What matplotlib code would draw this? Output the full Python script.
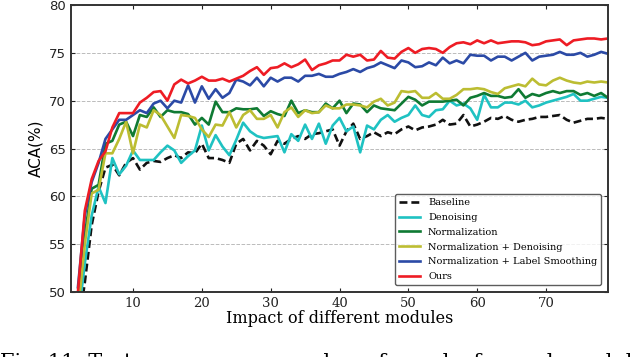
import matplotlib

matplotlib.use("Agg")
import matplotlib.pyplot as plt

# epochs 2..79
epochs = list(range(2, 80))

baseline = [46, 51, 57, 60.5, 63.0, 63.3, 62.2, 63.5, 64.0, 62.8,
            63.5, 63.7, 63.6, 64.0, 64.3, 64.0, 64.6, 64.5, 65.5, 64.0,
            64.0, 63.8, 63.5, 65.5, 66.0, 64.8, 65.8, 65.3, 64.4, 65.8,
            65.5, 66.0, 66.3, 66.0, 66.5, 66.6, 66.8, 67.0, 65.3, 66.8,
            67.6, 66.0, 66.3, 66.7, 66.3, 66.7, 66.5, 67.0, 67.3, 66.9,
            67.2, 67.3, 67.5, 68.0, 67.5, 67.6, 68.5, 67.3, 67.5, 67.8,
            68.2, 68.1, 68.4, 68.0, 67.8, 68.0, 68.1, 68.3, 68.3, 68.4,
            68.5, 68.0, 67.7, 67.9, 68.1, 68.1, 68.2, 68.1]
denoising = [47, 53, 58, 61, 59.3, 64, 62.3, 63.2, 64.8, 63.8,
             63.8, 63.8, 64.6, 65.3, 64.8, 63.5, 64.2, 64.8, 67.4, 64.8,
             66.4, 65.2, 64.3, 65.9, 67.7, 66.8, 66.3, 66.1, 66.2, 66.3,
             64.6, 66.5, 65.8, 67.5, 66.0, 67.6, 65.5, 67.4, 68.2, 66.8,
             67.3, 64.6, 67.4, 67.0, 68.0, 68.5, 67.8, 68.2, 68.5, 69.5,
             68.5, 68.3, 69.0, 69.1, 70.0, 69.5, 69.7, 69.2, 68.0, 70.6,
             69.3, 69.3, 69.8, 69.8, 69.6, 70.0, 69.3, 69.5, 69.8, 70.0,
             70.2, 70.4, 70.7, 70.0, 70.0, 70.2, 70.4, 70.3]
normalization = [49, 56, 60.8, 61.2, 65.5, 65.8, 67.5, 67.8, 66.3, 68.5,
                 68.3, 69.3, 68.3, 69.0, 68.8, 68.8, 68.6, 67.5, 68.2, 67.5,
                 69.9, 68.8, 68.8, 69.2, 69.1, 69.1, 69.2, 68.4, 68.9, 68.6,
                 68.4, 70.0, 68.7, 69.0, 68.8, 68.8, 69.7, 69.2, 70.0, 68.7,
                 69.7, 69.6, 68.8, 69.5, 69.2, 69.1, 69.0, 69.7, 70.4, 70.1,
                 69.5, 69.9, 69.9, 69.9, 70.0, 70.1, 69.5, 70.3, 70.5, 70.8,
                 70.5, 70.5, 70.3, 70.4, 71.2, 70.3, 70.7, 70.5, 70.8, 71.0,
                 70.8, 71.0, 71.0, 70.6, 70.8, 70.5, 70.8, 70.3]
norm_denoising = [48, 55, 60.3, 60.7, 64.5, 64.5, 66.0, 67.8, 64.5, 67.5,
                  67.2, 69.0, 68.5, 67.3, 66.1, 68.5, 68.4, 68.2, 67.0, 66.2,
                  67.5, 67.4, 68.8, 67.2, 68.5, 69.0, 68.1, 68.1, 68.5, 67.2,
                  68.8, 69.3, 68.3, 69.0, 68.7, 68.8, 69.5, 69.2, 69.2, 69.6,
                  69.6, 69.5, 69.3, 69.9, 70.2, 69.5, 69.8, 71.0, 70.9, 71.0,
                  70.3, 70.3, 70.8, 70.2, 70.2, 70.6, 71.2, 71.2, 71.3, 71.2,
                  70.9, 70.7, 71.3, 71.5, 71.7, 71.5, 72.3, 71.7, 71.6, 72.1,
                  72.4, 72.1, 71.9, 71.8, 72.0, 71.9, 72.0, 71.9]
norm_label_smooth = [50.5, 58, 61.5, 63.5, 66.0, 67.0, 68.0, 68.0, 68.5, 69.0,
                     68.7, 69.7, 70.0, 69.2, 70.0, 69.8, 71.6, 69.8, 71.5, 70.2,
                     71.2, 70.3, 70.8, 72.2, 72.0, 71.6, 72.4, 71.5, 72.4, 72.0,
                     72.4, 72.4, 72.0, 72.6, 72.6, 72.8, 72.5, 72.5, 72.8, 73.0,
                     73.3, 73.0, 73.4, 73.6, 74.0, 73.7, 73.4, 74.2, 74.0, 73.5,
                     73.6, 74.0, 73.7, 74.5, 73.9, 74.2, 73.9, 74.8, 74.7, 74.7,
                     74.2, 74.6, 74.6, 74.2, 74.6, 75.0, 74.2, 74.6, 74.7, 74.8,
                     75.1, 74.8, 74.8, 75.0, 74.6, 74.8, 75.1, 74.9]
ours = [50, 58.5, 61.8, 63.7, 64.7, 67.2, 68.7, 68.7, 68.7, 69.8,
        70.3, 70.9, 71.0, 70.0, 71.7, 72.2, 71.8, 72.1, 72.5, 72.1,
        72.1, 72.3, 72.0, 72.3, 72.6, 73.1, 73.5, 72.7, 73.4, 73.5,
        73.9, 73.5, 73.8, 74.3, 73.2, 73.7, 73.9, 74.2, 74.2, 74.8,
        74.6, 74.8, 74.2, 74.3, 75.2, 74.5, 74.4, 75.1, 75.5, 75.0,
        75.4, 75.5, 75.4, 75.0, 75.6, 76.0, 76.1, 75.9, 76.3, 76.0,
        76.3, 76.0, 76.1, 76.2, 76.2, 76.1, 75.8, 75.9, 76.2, 76.3,
        76.4, 75.8, 76.3, 76.4, 76.5, 76.5, 76.4, 76.5]

series = [
    ("Baseline", baseline, "#111111", (0, (3, 1.5))),
    ("Denoising", denoising, "#1fc2c2", "-"),
    ("Normalization", normalization, "#0f7a33", "-"),
    ("Normalization + Denoising", norm_denoising, "#bcbd32", "-"),
    ("Normalization + Label Smoothing", norm_label_smooth, "#2b4aa6", "-"),
    ("Ours", ours, "#ee1c24", "-"),
]

plt.rcParams["font.family"] = "DejaVu Serif"

fig = plt.figure(figsize=(6.4, 3.57), dpi=100)
ax = fig.add_axes([0.111, 0.182, 0.839, 0.804])

for name, vals, col, ls in series:
    ax.plot(epochs, vals, color=col, linestyle=ls, linewidth=1.9, label=name)

ax.set_xlim(1, 79)
ax.set_ylim(50, 80)
ax.set_xticks([10, 20, 30, 40, 50, 60, 70])
ax.set_yticks([50, 55, 60, 65, 70, 75, 80])
ax.tick_params(direction="in", length=3, labelsize=9.5, colors="#222222", top=True, right=True)
for lab in ax.get_yticklabels():
    lab.set_family("DejaVu Sans")
ax.yaxis.grid(True, linestyle="--", color="#bbbbbb", linewidth=0.7)
for s in ax.spines.values():
    s.set_linewidth(1.4)
    s.set_color("#333333")

ax.set_xlabel("Impact of different modules", fontsize=11.5, labelpad=0)
ax.set_ylabel("ACA(%)", fontsize=11, labelpad=4, family="DejaVu Sans")

leg = ax.legend(loc="lower right", fontsize=7, frameon=True, fancybox=True,
                borderaxespad=0.7, handlelength=2.2, labelspacing=0.6)
leg.get_frame().set_edgecolor("#333333")
leg.get_frame().set_linewidth(1.0)

fig.text(0.0, -0.03, "Fig. 11: Test accuracy vs. number of epochs for each module",
         fontsize=15, ha="left", va="baseline")

plt.savefig("out.png", dpi=100)
plt.close()
